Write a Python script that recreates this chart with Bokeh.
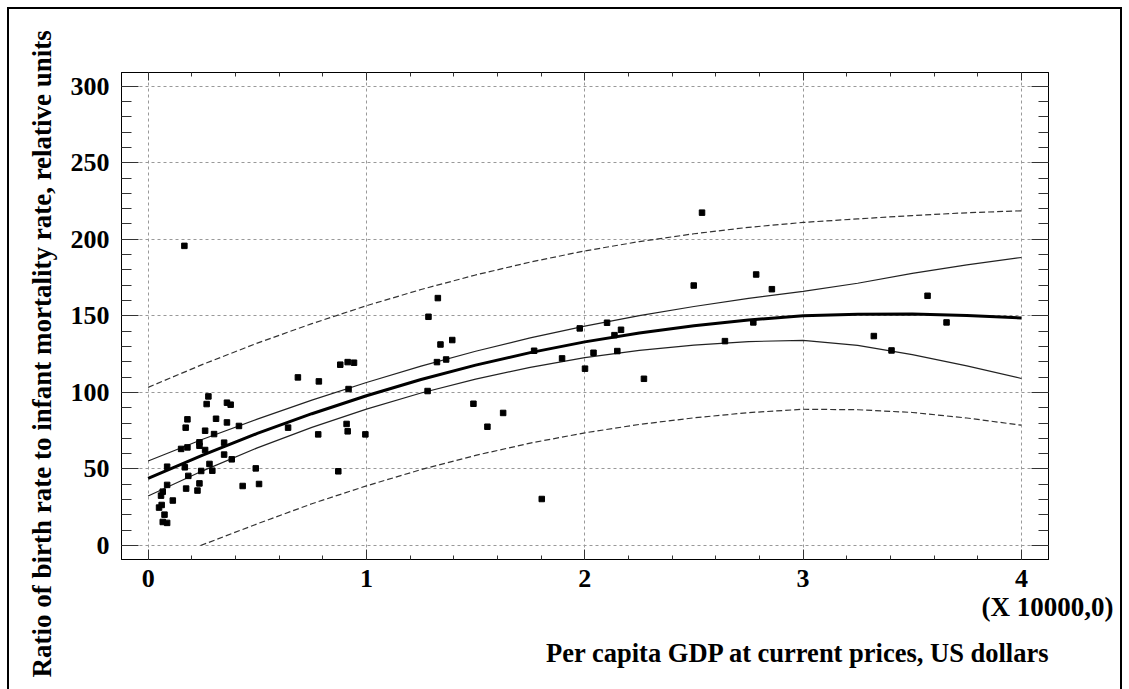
import numpy as np
from bokeh.plotting import figure
from bokeh.models import Range1d, FixedTicker, LinearAxis, Title
from bokeh.embed import file_html
from bokeh.resources import INLINE

# ---- data (GDP in units of 10000 USD) ----
gdp = [0.686, 0.276, 0.268, 0.361, 0.378, 0.180, 0.172, 0.311, 0.361, 0.416,
       0.261, 0.302, 0.235, 0.235, 0.151, 0.180, 0.261, 0.348, 0.348, 0.383,
       0.281, 0.641, 0.087, 0.168, 0.243, 0.294, 0.493, 0.184, 0.087, 0.174,
       0.235, 0.226, 0.433, 0.508, 0.067, 0.059, 0.113, 0.062, 0.050, 0.075,
       0.067, 0.087, 0.166, 0.782, 0.880, 0.914, 0.943, 0.918, 0.909, 0.914,
       0.779, 0.995, 0.871, 1.327, 1.284, 1.339, 1.393, 1.323, 1.365, 1.280,
       1.490, 1.554, 1.626, 1.768, 1.896, 1.977, 1.803, 2.537, 2.785, 2.499,
       2.857, 2.102, 2.166, 2.136, 2.772, 2.040, 2.149, 2.001, 2.271, 2.642,
       3.570, 3.657, 3.324, 3.405]
ratio = [109.8, 97.4, 92.4, 93.3, 92.0, 82.4, 77.0, 82.8, 80.4, 78.1,
         75.0, 72.8, 67.4, 65.2, 63.1, 64.1, 62.4, 67.2, 59.4, 56.3,
         53.3, 77.0, 51.5, 51.1, 48.7, 48.9, 50.4, 45.5, 39.6, 37.2,
         40.6, 35.9, 38.9, 40.2, 35.2, 32.6, 29.4, 26.5, 24.8, 20.2,
         15.4, 14.8, 195.7, 107.2, 118.1, 119.8, 119.4, 102.2, 79.4, 74.6,
         72.6, 72.6, 48.5, 161.6, 149.4, 131.3, 134.2, 119.8, 121.5, 100.9,
         92.6, 77.6, 86.6, 127.2, 122.2, 141.8, 30.4, 217.4, 177.0, 169.8,
         167.4, 145.5, 140.9, 137.4, 145.7, 125.9, 127.0, 115.5, 108.9, 133.5,
         163.1, 145.7, 136.8, 127.4]

curve_x = [0, 0.25, 0.5, 0.75, 1, 1.25, 1.5, 1.75, 2, 2.25, 2.5, 2.75, 3, 3.25, 3.5, 3.75, 4]
fit = [43.8, 59.1, 73.2, 86.1, 97.8, 108.4, 117.8, 126.0, 133.0, 138.8, 143.5, 147.3,
       150.0, 151.0, 151.2, 150.3, 148.6]
conf_upper = [55.2, 69.4, 82.6, 95.0, 106.5, 117.2, 126.9, 135.6, 143.3, 150.1, 156.1,
              161.4, 166.0, 171.3, 177.7, 183.3, 188.1]
conf_lower = [32.4, 48.8, 63.8, 77.2, 89.1, 99.6, 108.7, 116.4, 122.7, 127.5, 130.9,
              133.2, 134.0, 130.7, 124.7, 117.3, 109.1]
pred_upper = [103.3, 118.3, 132.2, 144.9, 156.6, 167.2, 176.7, 185.1, 192.4, 198.5, 203.6,
              207.8, 211.0, 213.3, 215.5, 217.3, 218.6]
pred_lower_x = [0.24, 0.5, 0.75, 1, 1.25, 1.5, 1.75, 2, 2.25, 2.5, 2.75, 3, 3.25, 3.5, 3.75, 4]
pred_lower = [0.0, 14.2, 27.3, 39.0, 49.6, 58.9, 66.9, 73.6, 79.1, 83.4, 86.8, 89.0,
              88.7, 86.9, 83.3, 78.6]

x_ticks = [0, 1, 2, 3, 4]
y_ticks = [0, 50, 100, 150, 200, 250, 300]

FONT = "Liberation Serif"

p = figure(width=1115, height=682, output_backend="svg", toolbar_location=None,
           x_range=Range1d(-0.122, 4.124), y_range=Range1d(-9.1, 308.9),
           x_axis_location=None, y_axis_location=None,
           min_border_left=114, min_border_top=65, min_border_right=74,
           min_border_bottom=130)
p.background_fill_color = "white"
p.border_fill_color = None
p.outline_line_color = "black"
p.outline_line_width = 1
p.styles = {"margin-left": "7px", "margin-top": "7px",
            "box-shadow": "inset 2px 2px 0 0 black, inset -2px 0 0 0 black"}

xt = FixedTicker(ticks=x_ticks, minor_ticks=list(np.round(np.arange(-0.2, 4.21, 0.2), 3)))
yt = FixedTicker(ticks=y_ticks, minor_ticks=list(range(-10, 311, 10)))

def style_axis(ax, maj_in, min_in, labels=True):
    ax.axis_line_color = "black"
    ax.major_tick_in = maj_in
    ax.major_tick_out = 0
    ax.minor_tick_in = min_in
    ax.minor_tick_out = 0
    ax.major_tick_line_color = "#333333"
    ax.minor_tick_line_color = "#333333"
    ax.major_label_text_font = FONT
    ax.major_label_text_font_style = "bold"
    ax.major_label_text_color = "black"
    ax.major_label_text_font_size = "26px"
    if not labels:
        ticks = x_ticks if ax.ticker is xt else y_ticks
        ax.major_label_overrides = {t: "" for t in ticks}
        ax.major_label_standoff = 0

bx = LinearAxis(ticker=xt)
style_axis(bx, 10, 4)
bx.major_label_standoff = 10
p.add_layout(bx, "below")
tx = LinearAxis(ticker=xt)
style_axis(tx, 8, 4, labels=False)
p.add_layout(tx, "above")
ly = LinearAxis(ticker=yt)
style_axis(ly, 17, 10)
ly.major_label_standoff = 12
p.add_layout(ly, "left")
ry = LinearAxis(ticker=yt)
style_axis(ry, 17, 10, labels=False)
p.add_layout(ry, "right")

p.xgrid.ticker = xt
p.ygrid.ticker = yt
for g in (p.xgrid[0], p.ygrid[0]):
    g.grid_line_color = "#999999"
    g.grid_line_dash = "3 3"
    g.grid_line_width = 1

t1 = Title(text="(X 10000,0)", align="right", offset=-65, text_font=FONT,
           text_font_style="bold", text_font_size="27px", text_color="black", standoff=0)
p.add_layout(t1, "below")
t2 = Title(text="Per capita GDP at current prices, US dollars", align="right", offset=-2,
           text_font=FONT, text_font_style="bold", text_font_size="26.5px",
           text_color="black", standoff=28)
p.add_layout(t2, "below")
t3 = Title(text="Ratio of birth rate to infant mortality rate, relative units", align="left",
           offset=-118, text_font=FONT, text_font_style="bold", text_font_size="27px",
           text_color="black", standoff=21)
p.add_layout(t3, "left")

p.line(curve_x, pred_upper, line_color="#333333", line_width=1.2, line_dash="6 3")
p.line(pred_lower_x, pred_lower, line_color="#333333", line_width=1.2, line_dash="6 3")
p.line(curve_x, conf_upper, line_color="#222222", line_width=1.2)
p.line(curve_x, conf_lower, line_color="#222222", line_width=1.2)
p.line(curve_x, fit, line_color="black", line_width=3)
p.scatter(gdp, ratio, marker="square", size=5.5, fill_color="black", line_color="black")

open("out.html", "w").write(file_html(p, INLINE))
